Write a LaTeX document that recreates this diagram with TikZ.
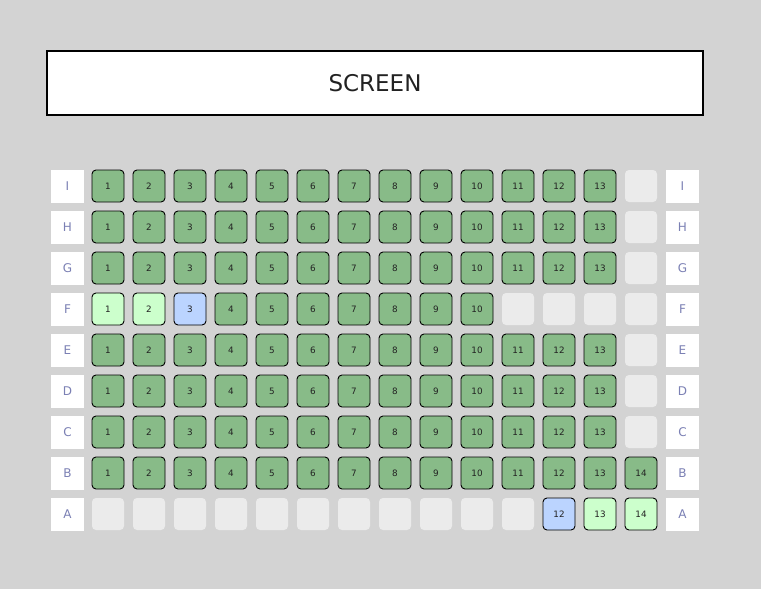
\documentclass[tikz,border=0pt]{standalone}
\usepackage{fontspec}
\setmainfont{DejaVu Sans}
\usepackage{tikz}
\usetikzlibrary{positioning}
\usepackage{xcolor}

\definecolor{hallgray}{HTML}{D3D3D3}
\definecolor{seatgreen}{HTML}{88BB88}
\definecolor{freshgreen}{HTML}{CCFFCC}
\definecolor{pickblue}{HTML}{BBD4FF}
\definecolor{voidgray}{HTML}{EBEBEB}
\definecolor{rowtext}{HTML}{7B80B4}
\definecolor{inkdark}{HTML}{222222}

\begin{document}
\begin{tikzpicture}[
    x=1pt, y=-1pt,
    seat/.style={rectangle, draw=black, line width=0.9pt, rounded corners=4pt, minimum size=32pt, inner sep=0pt, text=inkdark, font=\fontsize{8.8}{9}\selectfont},
    sold/.style={seat, fill=seatgreen},
    held/.style={seat, fill=freshgreen},
    mine/.style={seat, fill=pickblue},
    nospot/.style={rectangle, fill=voidgray, rounded corners=4pt, minimum size=32pt, inner sep=0pt},
    rowtag/.style={rectangle, fill=white, minimum size=33pt, inner sep=0pt, text=rowtext, font=\fontsize{12}{12}\selectfont}
]
    \fill[hallgray] (0,0) rectangle (761,589);
    \useasboundingbox (0,0) rectangle (761,589);

    % screen
    \node[rectangle, draw=black, line width=1.4pt, fill=white, minimum width=656pt, minimum height=64pt, text=inkdark, font=\fontsize{23}{23}\selectfont] (screen) at (375,83) {SCREEN};

    % row tags on both sides
    \foreach \r/\y in {I/186, H/227, G/268, F/309, E/350, D/391, C/432, B/473, A/514} {
        \node[rowtag] (tag-\r-L) at (67.5,\y) {\r};
        \node[rowtag] (tag-\r-R) at (682.5,\y) {\r};
    }

    % full rows
    \foreach \r/\y/\n in {I/186/13, H/227/13, G/268/13, E/350/13, D/391/13, C/432/13, B/473/14} {
        \foreach \c in {1,...,14} {
            \ifnum\c>\n
                \node[nospot] (seat-\r-\c) at ({108+41*(\c-1)},\y) {};
            \else
                \node[sold] (seat-\r-\c) at ({108+41*(\c-1)},\y) {\c};
            \fi
        }
    }

    % row F
    \node[held] (seat-F-1) at (108,309) {1};
    \node[held] (seat-F-2) at (149,309) {2};
    \node[mine] (seat-F-3) at (190,309) {3};
    \foreach \c in {4,...,10}
        \node[sold] (seat-F-\c) at ({108+41*(\c-1)},309) {\c};
    \foreach \c in {11,...,14}
        \node[nospot] (seat-F-\c) at ({108+41*(\c-1)},309) {};

    % row A
    \foreach \c in {1,...,11}
        \node[nospot] (seat-A-\c) at ({108+41*(\c-1)},514) {};
    \node[mine] (seat-A-12) at (559,514) {12};
    \node[held] (seat-A-13) at (600,514) {13};
    \node[held] (seat-A-14) at (641,514) {14};
\end{tikzpicture}
\end{document}
